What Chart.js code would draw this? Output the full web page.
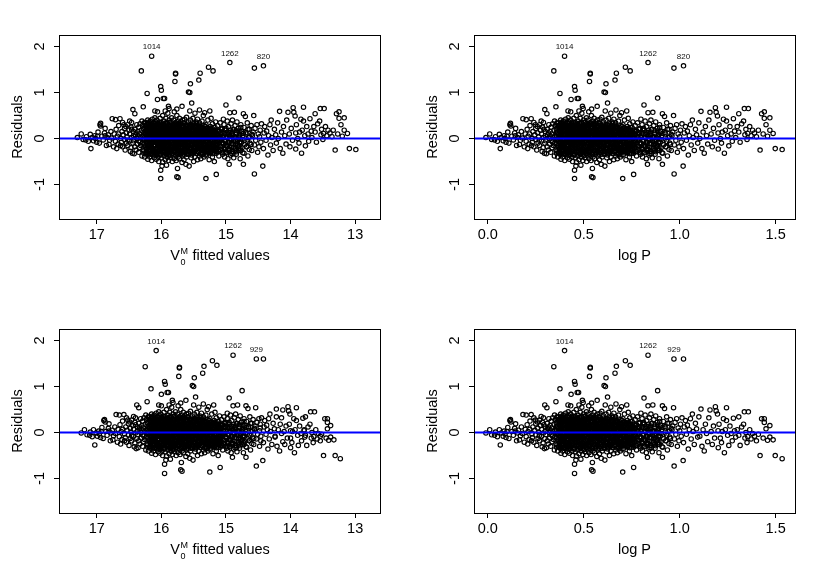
<!DOCTYPE html>
<html>
<head>
<meta charset="utf-8">
<title>Residual plots</title>
<script src="https://cdn.jsdelivr.net/npm/chart.js@4.4.1/dist/chart.umd.min.js"></script>
<style>
 html, body { margin: 0; padding: 0; background: #fff; }
 #wrap { position: relative; width: 830px; height: 588px; overflow: hidden; }
 #wrap canvas { position: absolute; }
</style>
</head>
<body>
<div id="wrap">
 <canvas id="tl" width="415" height="294" style="left:0;top:0"></canvas>
 <canvas id="tr" width="415" height="294" style="left:415px;top:0"></canvas>
 <canvas id="bl" width="415" height="294" style="left:0;top:294px"></canvas>
 <canvas id="br" width="415" height="294" style="left:415px;top:294px"></canvas>
</div>
<script>
// one entry per star, same order in every array
// first four stars are the labelled ones: 1014, 1262, 820, 929
const logP = [
 0.40, 0.835, 1.02, 0.97,
 -0.01, 0.01, 0.02, 0.035, 0.04, 0.05, 0.06, 0.065, 0.07, 0.08, 0.09, 0.095, 0.10, 0.085,
 0.104, 0.115, 0.118, 0.12, 0.11, 0.125, 0.133, 0.14, 0.143, 0.15, 0.155, 0.16, 0.165, 0.17, 0.175, 0.18, 0.183, 0.19, 0.195, 0.20, 0.20, 0.145,
 0.205, 0.208, 0.21, 0.215, 0.22, 0.226, 0.23, 0.232, 0.235, 0.24, 0.24, 0.245, 0.25, 0.25, 0.255, 0.258, 0.26, 0.262, 0.265, 0.27, 0.27, 0.275, 0.28, 0.28, 0.285, 0.288, 0.29, 0.29, 0.295, 0.297, 0.297, 0.30, 0.30, 0.218, 0.228, 0.248, 0.268, 0.278, 0.283, 0.292,
 0.302, 0.305, 0.308, 0.31, 0.31, 0.312, 0.315, 0.318, 0.32, 0.322, 0.325, 0.328, 0.33, 0.33, 0.333, 0.335, 0.338, 0.34, 0.342, 0.344, 0.345, 0.347, 0.35, 0.35, 0.352, 0.355, 0.355, 0.357, 0.36, 0.36, 0.358, 0.348, 0.338, 0.326, 0.316,
 0.362, 0.364, 0.365, 0.366, 0.368, 0.369, 0.37, 0.371, 0.372, 0.373, 0.374, 0.375, 0.376, 0.377, 0.378, 0.379, 0.38, 0.38,
 0.381, 0.382, 0.383, 0.384, 0.385, 0.386, 0.387, 0.388, 0.389, 0.39, 0.391, 0.392, 0.393, 0.394, 0.395, 0.396, 0.397, 0.398, 0.399, 0.40,
 0.401, 0.402, 0.403, 0.404, 0.405, 0.406, 0.407, 0.408, 0.409, 0.41, 0.411, 0.412, 0.413, 0.414, 0.415, 0.416, 0.417, 0.418, 0.419, 0.42, 0.42, 0.418,
 0.421, 0.422, 0.423, 0.424, 0.425, 0.426, 0.427, 0.428, 0.429, 0.43, 0.431, 0.432, 0.433, 0.434, 0.435, 0.436, 0.437, 0.438, 0.439, 0.44, 0.44, 0.432,
 0.441, 0.442, 0.443, 0.444, 0.445, 0.446, 0.447, 0.448, 0.449, 0.45, 0.451, 0.452, 0.452, 0.452, 0.453, 0.454, 0.455, 0.455, 0.456, 0.457, 0.458, 0.459, 0.46, 0.46,
 0.461, 0.462, 0.463, 0.464, 0.465, 0.466, 0.466, 0.467, 0.468, 0.469, 0.47, 0.471, 0.472, 0.473, 0.473, 0.474, 0.475, 0.476, 0.477, 0.478, 0.479, 0.48, 0.48, 0.475,
 0.481, 0.482, 0.483, 0.484, 0.485, 0.486, 0.487, 0.488, 0.489, 0.49, 0.491, 0.492, 0.493, 0.494, 0.495, 0.496, 0.497, 0.498, 0.499, 0.50, 0.50, 0.49, 0.485, 0.497,
 0.501, 0.502, 0.503, 0.504, 0.505, 0.506, 0.507, 0.508, 0.509, 0.51, 0.511, 0.512, 0.513, 0.514, 0.515, 0.516, 0.517, 0.518, 0.519, 0.52,
 0.521, 0.522, 0.523, 0.524, 0.525, 0.526, 0.527, 0.528, 0.529, 0.53, 0.53, 0.531, 0.532, 0.533, 0.534, 0.534, 0.535, 0.536, 0.537, 0.538, 0.539, 0.54,
 0.541, 0.541, 0.542, 0.543, 0.544, 0.545, 0.545, 0.546, 0.547, 0.548, 0.548, 0.549, 0.55, 0.551, 0.552, 0.553, 0.554, 0.555, 0.556, 0.557, 0.558, 0.56,
 0.561, 0.562, 0.563, 0.564, 0.565, 0.566, 0.567, 0.568, 0.569, 0.57, 0.571, 0.572, 0.573, 0.574, 0.575, 0.576, 0.578, 0.58,
 0.581, 0.582, 0.583, 0.584, 0.585, 0.586, 0.587, 0.588, 0.589, 0.59, 0.591, 0.592, 0.593, 0.594, 0.595, 0.596, 0.598, 0.60,
 0.602, 0.604, 0.606, 0.607, 0.608, 0.61, 0.611, 0.613, 0.614, 0.616, 0.616, 0.617, 0.618, 0.62, 0.62, 0.612,
 0.621, 0.622, 0.624, 0.624, 0.625, 0.627, 0.628, 0.63, 0.631, 0.632, 0.634, 0.635, 0.636, 0.638, 0.639, 0.64,
 0.641, 0.642, 0.643, 0.645, 0.646, 0.648, 0.649, 0.65, 0.652, 0.653, 0.654, 0.656, 0.657, 0.658, 0.659, 0.66,
 0.661, 0.663, 0.663, 0.664, 0.666, 0.667, 0.668, 0.67, 0.67, 0.672, 0.674, 0.675, 0.677, 0.679,
 0.681, 0.682, 0.684, 0.685, 0.687, 0.688, 0.69, 0.691, 0.693, 0.694, 0.696, 0.697, 0.698, 0.70,
 0.702, 0.703, 0.704, 0.706, 0.708, 0.71, 0.712, 0.714, 0.716, 0.717, 0.718, 0.72, 0.722, 0.724, 0.725, 0.727, 0.729, 0.73, 0.732, 0.734, 0.736, 0.738, 0.74, 0.742, 0.742, 0.744, 0.746, 0.748, 0.75, 0.752, 0.754, 0.756, 0.758, 0.76, 0.76, 0.762, 0.765, 0.768, 0.77, 0.773, 0.775, 0.778, 0.78, 0.783, 0.786, 0.79, 0.793, 0.796, 0.80, 0.798,
 0.802, 0.804, 0.806, 0.808, 0.81, 0.812, 0.814, 0.815, 0.817, 0.82, 0.822, 0.824, 0.826, 0.828, 0.83, 0.832, 0.833, 0.835, 0.836, 0.838, 0.84, 0.842, 0.844, 0.846, 0.848, 0.85, 0.852, 0.855, 0.857, 0.86, 0.86, 0.862, 0.865, 0.868, 0.87, 0.872, 0.875, 0.878, 0.88, 0.883, 0.885, 0.886, 0.89, 0.892, 0.895, 0.898, 0.90, 0.903, 0.906, 0.91, 0.91, 0.912, 0.915, 0.918, 0.921, 0.924, 0.928, 0.932, 0.936, 0.94, 0.944, 0.948,
 0.952, 0.956, 0.96, 0.964, 0.968, 0.971, 0.972, 0.976, 0.98, 0.984, 0.988, 0.992, 0.996, 1.00, 1.004, 1.008, 1.012, 1.018, 1.02, 1.024, 1.03, 1.035, 1.04, 1.045, 1.05, 1.056, 1.06, 1.066, 1.07, 1.076, 1.082, 1.088, 1.094, 1.10, 1.105, 1.111, 1.116, 1.122, 1.128, 1.134, 1.14, 1.146, 1.152, 1.158, 1.164, 1.17, 1.176, 1.182, 1.186, 1.19, 1.197, 1.20, 1.201,
 1.205, 1.212, 1.218, 1.222, 1.228, 1.233, 1.238, 1.244, 1.244, 1.25, 1.256, 1.262, 1.268, 1.274, 1.28, 1.286, 1.292, 1.30, 1.308, 1.308, 1.315, 1.323, 1.333, 1.337, 1.34, 1.345, 1.351, 1.355, 1.358, 1.365, 1.372, 1.38, 1.39, 1.40, 1.41, 1.419, 1.427, 1.435, 1.441, 1.441, 1.45, 1.458, 1.47, 1.47, 1.487, 1.498, 1.534,
 // packed core, 0.37-0.76
 0.372, 0.374, 0.375, 0.377, 0.379, 0.382, 0.384, 0.385, 0.387, 0.389, 0.392, 0.394, 0.395, 0.397, 0.399, 0.402, 0.404, 0.405, 0.407, 0.409, 0.412, 0.414, 0.415, 0.417, 0.419, 0.422, 0.424, 0.425, 0.427, 0.429, 0.432, 0.434, 0.435, 0.437, 0.439, 0.442, 0.444, 0.445, 0.447, 0.449,
 0.452, 0.454, 0.455, 0.457, 0.459, 0.462, 0.464, 0.465, 0.467, 0.469, 0.472, 0.474, 0.475, 0.477, 0.479, 0.482, 0.484, 0.485, 0.487, 0.489, 0.492, 0.494, 0.495, 0.497, 0.499, 0.502, 0.504, 0.505, 0.507, 0.509, 0.512, 0.514, 0.515, 0.517, 0.519, 0.522, 0.524, 0.525, 0.527, 0.529,
 0.532, 0.534, 0.535, 0.537, 0.539, 0.542, 0.544, 0.545, 0.547, 0.549, 0.552, 0.554, 0.555, 0.557, 0.559, 0.562, 0.564, 0.565, 0.567, 0.569, 0.572, 0.574, 0.575, 0.577, 0.579, 0.582, 0.584, 0.585, 0.587, 0.589, 0.592, 0.594, 0.595, 0.597, 0.599, 0.602, 0.604, 0.605, 0.607, 0.609,
 0.612, 0.614, 0.615, 0.617, 0.619, 0.622, 0.624, 0.625, 0.627, 0.629, 0.632, 0.634, 0.635, 0.637, 0.639, 0.642, 0.644, 0.645, 0.647, 0.649, 0.652, 0.654, 0.655, 0.657, 0.659, 0.662, 0.664, 0.665, 0.667, 0.669, 0.672, 0.674, 0.675, 0.677, 0.679, 0.682, 0.684, 0.685, 0.687, 0.689,
 0.692, 0.694, 0.695, 0.697, 0.699, 0.702, 0.704, 0.705, 0.707, 0.709, 0.712, 0.714, 0.715, 0.717, 0.719, 0.722, 0.724, 0.725, 0.727, 0.729, 0.732, 0.734, 0.735, 0.737, 0.739, 0.742, 0.744, 0.745, 0.747, 0.749, 0.752, 0.754, 0.755, 0.757, 0.759,
 0.764, 0.768, 0.772, 0.776, 0.784, 0.788, 0.792, 0.796, 0.804, 0.808, 0.812, 0.816, 0.824, 0.828, 0.832, 0.836, 0.844, 0.848, 0.852, 0.856, 0.864, 0.868, 0.872, 0.876, 0.884, 0.888, 0.892, 0.896, 0.904, 0.908, 0.912, 0.916, 0.924, 0.928, 0.932, 0.936, 0.944, 0.948, 0.952, 0.956,
 // packed core, second pass
 0.356, 0.357, 0.359, 0.360, 0.361, 0.363, 0.364, 0.366, 0.367, 0.369, 0.370, 0.371, 0.373, 0.374, 0.376, 0.377, 0.379, 0.380, 0.381, 0.383, 0.384, 0.386, 0.387, 0.389, 0.390, 0.391, 0.393, 0.394,
 0.396, 0.397, 0.399, 0.400, 0.401, 0.403, 0.404, 0.406, 0.407, 0.409, 0.410, 0.411, 0.413, 0.414, 0.416, 0.417, 0.419, 0.420, 0.421, 0.423, 0.424, 0.426, 0.427, 0.429, 0.430, 0.431, 0.433, 0.434,
 0.436, 0.437, 0.439, 0.440, 0.441, 0.443, 0.444, 0.446, 0.447, 0.449, 0.450, 0.451, 0.453, 0.454, 0.456, 0.457, 0.459, 0.460, 0.461, 0.463, 0.464, 0.466, 0.467, 0.469, 0.470, 0.471, 0.473, 0.474,
 0.476, 0.477, 0.479, 0.480, 0.481, 0.483, 0.484, 0.486, 0.487, 0.489, 0.490, 0.491, 0.493, 0.494, 0.496, 0.497, 0.499, 0.500, 0.501, 0.503, 0.504, 0.506, 0.507, 0.509, 0.510, 0.511, 0.513, 0.514,
 0.516, 0.517, 0.519, 0.520, 0.521, 0.523, 0.524, 0.526, 0.527, 0.529, 0.530, 0.531, 0.533, 0.534, 0.536, 0.537, 0.539, 0.540, 0.541, 0.543, 0.544, 0.546, 0.547, 0.549, 0.550, 0.551, 0.553, 0.554,
 0.556, 0.557, 0.559, 0.560, 0.561, 0.563, 0.564, 0.566, 0.567, 0.569, 0.570, 0.571, 0.573, 0.574, 0.576, 0.577, 0.579, 0.580, 0.581, 0.583, 0.584, 0.586, 0.587, 0.589, 0.590, 0.591, 0.593, 0.594,
 0.596, 0.597, 0.599, 0.600, 0.601, 0.603, 0.604, 0.606, 0.607, 0.609, 0.610, 0.611, 0.613, 0.614, 0.616, 0.617, 0.619, 0.620, 0.621, 0.623, 0.624, 0.626, 0.627, 0.629, 0.630, 0.631, 0.633, 0.634,
 0.636, 0.637, 0.639, 0.640, 0.641, 0.643, 0.644, 0.646, 0.647, 0.649, 0.650, 0.651, 0.653, 0.654, 0.656, 0.657, 0.659, 0.660, 0.661, 0.663, 0.664, 0.666, 0.667, 0.669, 0.670, 0.671, 0.673, 0.674,
 0.676, 0.677, 0.679, 0.680, 0.681, 0.683, 0.684, 0.686, 0.687, 0.689, 0.690, 0.691, 0.693, 0.694, 0.696, 0.697, 0.699, 0.700, 0.701, 0.703, 0.704, 0.706, 0.707, 0.709, 0.710, 0.711, 0.713, 0.714,
 0.716, 0.717, 0.719, 0.720, 0.721, 0.723, 0.724, 0.726, 0.727, 0.729, 0.730, 0.731, 0.733, 0.734, 0.736, 0.737, 0.739, 0.740, 0.741, 0.743, 0.744, 0.746, 0.747, 0.749, 0.750, 0.751, 0.753, 0.754,
 0.756, 0.757, 0.759, 0.760, 0.761, 0.763, 0.764,
 0.762, 0.765, 0.768, 0.772, 0.775, 0.778, 0.782, 0.785, 0.788, 0.792, 0.795, 0.798, 0.802, 0.805, 0.808, 0.812, 0.815, 0.818, 0.822, 0.825, 0.828, 0.832, 0.835, 0.838, 0.842, 0.845, 0.848, 0.852, 0.855, 0.858, 0.862, 0.865, 0.868, 0.872, 0.875, 0.878, 0.882, 0.885, 0.888, 0.892, 0.895, 0.898
];

// top model: fitted V0M and residuals
const fitA = [
 16.15, 14.94, 14.42, 14.56,
 17.30, 17.24, 17.21, 17.17, 17.16, 17.13, 17.10, 17.09, 17.07, 17.05, 17.02, 17.00, 16.99, 17.03,
 16.98, 16.95, 16.94, 16.94, 16.96, 16.92, 16.90, 16.88, 16.87, 16.85, 16.84, 16.82, 16.81, 16.80, 16.78, 16.77, 16.76, 16.74, 16.73, 16.71, 16.71, 16.87,
 16.70, 16.69, 16.68, 16.67, 16.66, 16.64, 16.63, 16.62, 16.61, 16.60, 16.60, 16.59, 16.57, 16.57, 16.56, 16.55, 16.54, 16.54, 16.53, 16.52, 16.52, 16.50, 16.49, 16.49, 16.47, 16.47, 16.46, 16.46, 16.45, 16.44, 16.44, 16.43, 16.43, 16.66, 16.63, 16.58, 16.52, 16.49, 16.48, 16.46,
 16.43, 16.42, 16.41, 16.41, 16.41, 16.40, 16.39, 16.38, 16.38, 16.37, 16.36, 16.35, 16.35, 16.35, 16.34, 16.34, 16.33, 16.32, 16.32, 16.31, 16.31, 16.30, 16.29, 16.29, 16.29, 16.28, 16.28, 16.27, 16.27, 16.27, 16.27, 16.30, 16.33, 16.36, 16.39,
 16.26, 16.26, 16.25, 16.25, 16.24, 16.24, 16.24, 16.23, 16.23, 16.23, 16.23, 16.22, 16.22, 16.22, 16.22, 16.21, 16.21, 16.21,
 16.21, 16.21, 16.20, 16.20, 16.20, 16.19, 16.19, 16.19, 16.18, 16.18, 16.18, 16.18, 16.17, 16.17, 16.17, 16.16, 16.16, 16.16, 16.16, 16.15,
 16.15, 16.15, 16.15, 16.14, 16.14, 16.14, 16.13, 16.13, 16.13, 16.13, 16.12, 16.12, 16.12, 16.12, 16.11, 16.11, 16.11, 16.10, 16.10, 16.10, 16.10, 16.10,
 16.10, 16.09, 16.09, 16.09, 16.08, 16.08, 16.08, 16.08, 16.07, 16.07, 16.07, 16.06, 16.06, 16.06, 16.06, 16.05, 16.05, 16.05, 16.05, 16.04, 16.04, 16.06,
 16.04, 16.04, 16.03, 16.03, 16.03, 16.03, 16.02, 16.02, 16.02, 16.01, 16.01, 16.01, 16.01, 16.01, 16.01, 16.00, 16.00, 16.00, 16.00, 16.00, 15.99, 15.99, 15.99, 15.99,
 15.98, 15.98, 15.98, 15.98, 15.97, 15.97, 15.97, 15.97, 15.96, 15.96, 15.96, 15.96, 15.95, 15.95, 15.95, 15.95, 15.94, 15.94, 15.94, 15.94, 15.93, 15.93, 15.93, 15.94,
 15.93, 15.93, 15.92, 15.92, 15.92, 15.91, 15.91, 15.91, 15.91, 15.90, 15.90, 15.90, 15.89, 15.89, 15.89, 15.89, 15.88, 15.88, 15.88, 15.88, 15.88, 15.90, 15.92, 15.88,
 15.87, 15.87, 15.87, 15.86, 15.86, 15.86, 15.86, 15.85, 15.85, 15.85, 15.84, 15.84, 15.84, 15.84, 15.83, 15.83, 15.83, 15.82, 15.82, 15.82,
 15.82, 15.81, 15.81, 15.81, 15.81, 15.80, 15.80, 15.80, 15.79, 15.79, 15.79, 15.79, 15.79, 15.78, 15.78, 15.78, 15.78, 15.77, 15.77, 15.77, 15.77, 15.76,
 15.76, 15.76, 15.76, 15.75, 15.75, 15.75, 15.75, 15.75, 15.74, 15.74, 15.74, 15.74, 15.74, 15.73, 15.73, 15.73, 15.72, 15.72, 15.72, 15.72, 15.71, 15.71,
 15.70, 15.70, 15.70, 15.70, 15.69, 15.69, 15.69, 15.68, 15.68, 15.68, 15.68, 15.67, 15.67, 15.67, 15.67, 15.66, 15.66, 15.65,
 15.65, 15.65, 15.64, 15.64, 15.64, 15.64, 15.63, 15.63, 15.63, 15.62, 15.62, 15.62, 15.62, 15.61, 15.61, 15.61, 15.60, 15.60,
 15.59, 15.58, 15.58, 15.58, 15.57, 15.57, 15.57, 15.56, 15.56, 15.55, 15.55, 15.55, 15.55, 15.54, 15.54, 15.56,
 15.54, 15.54, 15.53, 15.53, 15.53, 15.52, 15.52, 15.51, 15.51, 15.51, 15.50, 15.50, 15.50, 15.49, 15.49, 15.48,
 15.48, 15.48, 15.48, 15.47, 15.47, 15.46, 15.46, 15.46, 15.45, 15.45, 15.45, 15.44, 15.44, 15.43, 15.43, 15.43,
 15.43, 15.42, 15.42, 15.42, 15.41, 15.41, 15.41, 15.40, 15.40, 15.40, 15.39, 15.39, 15.38, 15.38,
 15.37, 15.37, 15.36, 15.36, 15.35, 15.35, 15.35, 15.34, 15.34, 15.33, 15.33, 15.33, 15.32, 15.32,
 15.31, 15.31, 15.31, 15.30, 15.29, 15.29, 15.28, 15.28, 15.27, 15.27, 15.27, 15.26, 15.26, 15.25, 15.25, 15.24, 15.24, 15.23, 15.23, 15.22, 15.22, 15.21, 15.21, 15.20, 15.20, 15.19, 15.19, 15.18, 15.18, 15.17, 15.17, 15.16, 15.16, 15.15, 15.15, 15.14, 15.14, 15.13, 15.12, 15.11, 15.11, 15.10, 15.09, 15.09, 15.08, 15.07, 15.06, 15.05, 15.04, 15.04,
 15.03, 15.03, 15.02, 15.02, 15.01, 15.00, 15.00, 15.00, 14.99, 14.98, 14.98, 14.97, 14.97, 14.96, 14.95, 14.95, 14.95, 14.94, 14.94, 14.93, 14.93, 14.92, 14.92, 14.91, 14.90, 14.90, 14.89, 14.88, 14.88, 14.87, 14.87, 14.86, 14.86, 14.85, 14.84, 14.84, 14.83, 14.82, 14.81, 14.81, 14.80, 14.80, 14.79, 14.78, 14.77, 14.76, 14.76, 14.75, 14.74, 14.73, 14.73, 14.72, 14.72, 14.71, 14.70, 14.69, 14.68, 14.67, 14.66, 14.65, 14.64, 14.63,
 14.61, 14.60, 14.59, 14.58, 14.57, 14.56, 14.56, 14.55, 14.54, 14.52, 14.51, 14.50, 14.49, 14.48, 14.47, 14.46, 14.45, 14.43, 14.42, 14.41, 14.40, 14.38, 14.37, 14.35, 14.34, 14.32, 14.31, 14.30, 14.29, 14.27, 14.25, 14.23, 14.22, 14.20, 14.19, 14.17, 14.16, 14.14, 14.12, 14.11, 14.09, 14.07, 14.06, 14.04, 14.02, 14.01, 13.99, 13.97, 13.96, 13.95, 13.93, 13.92, 13.92,
 13.91, 13.89, 13.87, 13.86, 13.84, 13.83, 13.82, 13.80, 13.80, 13.78, 13.77, 13.75, 13.73, 13.72, 13.70, 13.68, 13.67, 13.64, 13.62, 13.62, 13.60, 13.58, 13.55, 13.54, 13.53, 13.52, 13.50, 13.49, 13.48, 13.46, 13.44, 13.42, 13.39, 13.36, 13.34, 13.31, 13.29, 13.27, 13.25, 13.25, 13.22, 13.20, 13.17, 13.17, 13.12, 13.09, 12.99,
 // packed core
 16.23, 16.23, 16.22, 16.22, 16.21, 16.20, 16.20, 16.20, 16.19, 16.19, 16.18, 16.17, 16.17, 16.16, 16.16, 16.15, 16.14, 16.14, 16.13, 16.13, 16.12, 16.12, 16.11, 16.11, 16.10, 16.09, 16.09, 16.08, 16.08, 16.07, 16.06, 16.06, 16.06, 16.05, 16.05, 16.04, 16.03, 16.03, 16.02, 16.02,
 16.01, 16.00, 16.00, 16.00, 15.99, 15.98, 15.98, 15.97, 15.97, 15.96, 15.95, 15.95, 15.95, 15.94, 15.93, 15.93, 15.92, 15.92, 15.91, 15.91, 15.90, 15.89, 15.89, 15.88, 15.88, 15.87, 15.86, 15.86, 15.86, 15.85, 15.84, 15.84, 15.83, 15.83, 15.82, 15.81, 15.81, 15.81, 15.80, 15.79,
 15.79, 15.78, 15.78, 15.77, 15.77, 15.76, 15.75, 15.75, 15.74, 15.74, 15.73, 15.73, 15.72, 15.72, 15.71, 15.70, 15.70, 15.69, 15.69, 15.68, 15.67, 15.67, 15.67, 15.66, 15.66, 15.65, 15.64, 15.64, 15.63, 15.63, 15.62, 15.61, 15.61, 15.60, 15.60, 15.59, 15.59, 15.58, 15.58, 15.57,
 15.56, 15.56, 15.55, 15.55, 15.54, 15.53, 15.53, 15.53, 15.52, 15.52, 15.51, 15.50, 15.50, 15.49, 15.49, 15.48, 15.47, 15.47, 15.46, 15.46, 15.45, 15.45, 15.44, 15.44, 15.43, 15.42, 15.42, 15.42, 15.41, 15.40, 15.40, 15.39, 15.39, 15.38, 15.38, 15.37, 15.36, 15.36, 15.35, 15.35,
 15.34, 15.33, 15.33, 15.33, 15.32, 15.31, 15.31, 15.30, 15.30, 15.29, 15.28, 15.28, 15.28, 15.27, 15.26, 15.26, 15.25, 15.25, 15.24, 15.24, 15.23, 15.22, 15.22, 15.21, 15.21, 15.20, 15.19, 15.19, 15.19, 15.18, 15.17, 15.17, 15.16, 15.16, 15.15,
 15.14, 15.13, 15.12, 15.10, 15.08, 15.07, 15.06, 15.05, 15.03, 15.02, 15.01, 14.99, 14.97, 14.96, 14.95, 14.94, 14.92, 14.90, 14.89, 14.88, 14.86, 14.85, 14.84, 14.83, 14.80, 14.79, 14.78, 14.77, 14.75, 14.74, 14.73, 14.71, 14.69, 14.68, 14.67, 14.66, 14.64, 14.63, 14.61, 14.60,
 // packed core, second pass
 16.28, 16.27, 16.27, 16.27, 16.26, 16.26, 16.25, 16.25, 16.25, 16.24, 16.24, 16.23, 16.23, 16.23, 16.22, 16.22, 16.21, 16.21, 16.21, 16.20, 16.20, 16.19, 16.19, 16.18, 16.18, 16.18, 16.17, 16.17,
 16.17, 16.16, 16.16, 16.15, 16.15, 16.15, 16.14, 16.14, 16.13, 16.13, 16.13, 16.12, 16.12, 16.12, 16.11, 16.11, 16.10, 16.10, 16.10, 16.09, 16.09, 16.08, 16.08, 16.07, 16.07, 16.07, 16.06, 16.06,
 16.05, 16.05, 16.05, 16.04, 16.04, 16.03, 16.03, 16.03, 16.02, 16.02, 16.01, 16.01, 16.01, 16.00, 16.00, 15.99, 15.99, 15.99, 15.98, 15.98, 15.98, 15.97, 15.97, 15.96, 15.96, 15.96, 15.95, 15.95,
 15.94, 15.94, 15.93, 15.93, 15.93, 15.92, 15.92, 15.91, 15.91, 15.91, 15.90, 15.90, 15.89, 15.89, 15.89, 15.88, 15.88, 15.87, 15.87, 15.87, 15.86, 15.86, 15.85, 15.85, 15.85, 15.84, 15.84, 15.84,
 15.83, 15.83, 15.82, 15.82, 15.82, 15.81, 15.81, 15.80, 15.80, 15.79, 15.79, 15.79, 15.78, 15.78, 15.77, 15.77, 15.77, 15.76, 15.76, 15.76, 15.75, 15.75, 15.74, 15.74, 15.74, 15.73, 15.73, 15.72,
 15.72, 15.72, 15.71, 15.71, 15.70, 15.70, 15.70, 15.69, 15.69, 15.68, 15.68, 15.68, 15.67, 15.67, 15.66, 15.66, 15.66, 15.65, 15.65, 15.64, 15.64, 15.63, 15.63, 15.63, 15.62, 15.62, 15.62, 15.61,
 15.61, 15.60, 15.60, 15.60, 15.59, 15.59, 15.58, 15.58, 15.58, 15.57, 15.57, 15.57, 15.56, 15.56, 15.55, 15.55, 15.54, 15.54, 15.54, 15.53, 15.53, 15.52, 15.52, 15.52, 15.51, 15.51, 15.50, 15.50,
 15.50, 15.49, 15.49, 15.48, 15.48, 15.48, 15.47, 15.47, 15.46, 15.46, 15.46, 15.45, 15.45, 15.45, 15.44, 15.44, 15.43, 15.43, 15.43, 15.42, 15.42, 15.41, 15.41, 15.40, 15.40, 15.40, 15.39, 15.39,
 15.38, 15.38, 15.38, 15.37, 15.37, 15.36, 15.36, 15.36, 15.35, 15.35, 15.34, 15.34, 15.34, 15.33, 15.33, 15.32, 15.32, 15.32, 15.31, 15.31, 15.31, 15.30, 15.30, 15.29, 15.29, 15.29, 15.28, 15.28,
 15.27, 15.27, 15.26, 15.26, 15.26, 15.25, 15.25, 15.24, 15.24, 15.24, 15.23, 15.23, 15.23, 15.22, 15.22, 15.21, 15.21, 15.21, 15.20, 15.20, 15.19, 15.19, 15.19, 15.18, 15.18, 15.17, 15.17, 15.17,
 15.16, 15.16, 15.15, 15.15, 15.15, 15.14, 15.14,
 15.14, 15.14, 15.13, 15.12, 15.11, 15.10, 15.09, 15.08, 15.07, 15.06, 15.05, 15.04, 15.03, 15.02, 15.02, 15.00, 15.00, 14.99, 14.98, 14.97, 14.96, 14.95, 14.94, 14.93, 14.92, 14.91, 14.90, 14.89, 14.88, 14.88, 14.86, 14.86, 14.85, 14.84, 14.83, 14.82, 14.81, 14.80, 14.79, 14.78, 14.77, 14.76
];

const resA = [
 1.79, 1.65, 1.58, 1.53,
 0.02, 0.10, -0.02, -0.03, 0.04, -0.06, 0.09, -0.22, 0.02, -0.05, 0.00, -0.08, 0.05, 0.06,
 0.14, 0.30, 0.33, 0.27, -0.10, 0.05, -0.03, 0.12, 0.06, -0.15, 0.02, 0.08, -0.13, -0.04, 0.15, 0.01, 0.43, -0.18, 0.10, 0.41, -0.06, 0.22,
 0.20, -0.22, 0.05, -0.12, 0.28, 0.43, 0.00, -0.08, 0.15, 0.35, -0.18, 0.08, -0.02, 0.22, -0.25, 0.26, 0.12, -0.10, 0.04, 0.30, -0.15, 0.18, -0.05, 0.10, 0.25, -0.20, 0.02, 0.35, -0.32, 0.63, -0.10, 0.15, 0.06, 0.10, -0.15, 0.30, -0.04, 0.38, -0.28, 0.20,
 -0.05, -0.33, 0.54, 0.20, -0.18, 0.08, -0.25, 0.30, 0.00, -0.12, 0.15, -0.30, 0.25, -0.05, 0.10, -0.20, 0.32, 0.02, -0.15, 1.47, 0.18, -0.38, 0.06, -0.10, 0.28, 0.69, -0.25, 0.12, -0.02, 0.22, -0.32, 0.38, -0.08, 0.05, 0.12,
 0.35, -0.40, 0.10, -0.15, 0.25, -0.05, 0.02, -0.30, 0.18, -0.22, 0.30, -0.10, 0.98, 0.08, -0.35, 0.15, -0.02, 0.40,
 -0.45, 0.22, -0.18, 0.05, 0.33, -0.28, 0.12, -0.08, 0.28, -0.40, 0.00, 0.18, -0.24, 0.38, -0.12, 0.08, -0.33, 0.25, -0.04, 0.15,
 -0.48, 0.30, -0.20, 0.06, 0.42, -0.10, 0.20, -0.36, 0.00, 0.26, -0.26, 0.12, -0.06, 0.34, -0.42, 0.16, -0.15, 0.04, 0.45, -0.30, 0.22, 0.60,
 -0.08, 0.36, -0.22, 0.10, -0.45, 0.24, -0.02, 0.18, -0.34, 0.05, 0.40, -0.14, 0.28, 0.85, -0.28, 0.14, -0.05, 0.32, -0.40, 0.08, -0.18, 0.58,
 0.22, -0.50, 0.02, 0.30, -0.24, 0.12, -0.10, 0.44, -0.36, 0.18, -0.02, 1.13, -0.69, -0.87, 0.26, -0.16, 1.05, 0.06, -0.42, 0.35, -0.06, -0.60, 0.15, -0.30,
 0.50, -0.51, 0.08, -0.20, 0.28, 0.87, -0.04, 0.20, -0.38, 0.12, -0.12, 0.38, -0.28, 0.87, 0.02, 0.24, -0.46, 0.10, -0.18, 0.32, 0.00, -0.34, 0.16, 0.60,
 -0.08, 0.44, -0.24, 0.06, 0.26, -0.40, 0.14, -0.14, 0.34, -0.02, 0.20, -0.30, 0.70, 0.04, -0.48, 0.28, -0.10, 0.12, -0.36, 0.40, -0.20, 0.55, -0.58, 0.65,
 0.08, -0.26, 0.30, -0.06, 0.18, -0.42, 0.02, 0.36, -0.16, 0.12, -0.32, 0.24, -0.04, 0.45, -0.50, 0.10, -0.20, 0.30, 0.00, -0.38,
 0.20, -0.10, 0.40, -0.28, 0.06, 0.58, -0.44, 0.16, -0.02, 1.24, 0.28, -0.22, 0.10, -0.36, 1.42, 1.40, 0.34, -0.08, 0.22, -0.48, 0.04, 0.50,
 0.64, -0.83, -0.18, 0.26, -0.30, -0.65, 0.12, -0.06, 0.38, -0.85, -0.40, 0.18, -0.12, 0.32, 0.00, -0.26, 0.44, 0.08, -0.44, 0.22, -0.04, 0.30,
 -0.20, 0.14, -0.34, 0.36, 0.02, -0.10, 0.24, -0.52, 0.10, 0.70, -0.28, 0.40, -0.04, 0.18, -0.38, 0.28, -0.14, 0.06,
 0.34, -0.46, 0.12, -0.22, 0.42, 0.00, -0.30, 0.22, -0.08, 0.30, -0.56, 0.06, -0.18, 0.46, 0.16, -0.40, -0.02, 0.26,
 -0.12, 0.36, 1.01, -0.34, 0.10, -0.60, 0.24, 1.00, -0.06, 1.19, 0.40, -0.24, 0.14, -0.42, 0.02, 0.60,
 0.30, -0.16, 0.77, 0.08, -0.36, 0.20, -0.04, 0.44, -0.26, 0.12, -0.50, 0.32, -0.10, 0.04, -0.30, 0.22,
 0.55, -0.02, -0.40, 0.16, -0.20, 0.36, 0.00, -0.32, 0.26, -0.10, 0.10, -0.46, 0.42, 0.06, -0.18, 0.30,
 -0.28, 1.27, 0.14, -0.06, 0.34, -0.38, 0.62, 1.42, 0.04, -0.16, 0.24, -0.44, 0.10, -0.24,
 0.38, -0.02, -0.34, 0.18, -0.12, 0.50, 0.08, -0.40, 0.28, -0.20, 0.02, 0.56, -0.30, 0.14,
 -0.08, -0.87, 0.30, -0.36, 0.12, -0.18, 0.40, 0.00, -0.28, 1.55, 0.20, -0.46, 0.08, 0.60, -0.12, 0.26, -0.32, 0.04, 0.44, -0.22, 0.14, -0.40, 0.32, 1.47, -0.04, 0.18, -0.26, 0.06, -0.50, 0.24, -0.14, 0.36, 0.00, -0.78, -0.32, 0.10, -0.20, 0.28, -0.06, 0.16, -0.38, 0.04, 0.34, -0.24, 0.12, -0.10, 0.22, -0.34, 0.06, 0.42,
 -0.20, 0.30, -0.40, 0.10, -0.06, 0.22, 0.73, -0.30, 0.02, 0.38, -0.16, 0.14, -0.44, 0.26, -0.08, -0.56, 0.06, 0.56, -0.24, 0.18, -0.36, 0.32, -0.02, 0.10, -0.28, 0.40, -0.12, 0.20, -0.42, 0.57, 0.04, -0.22, 0.28, -0.06, 0.12, -0.34, 0.36, -0.14, 0.02, 0.22, 0.88, -0.26, 0.08, -0.44, 0.30, -0.08, 0.16, -0.20, 0.06, 0.54, -0.56, -0.32, 0.24, -0.04, 0.48, 0.10, -0.18, 0.34, -0.38, 0.02, 0.20, -0.10,
 0.28, -0.26, 0.06, 0.14, 0.50, -0.77, -0.14, 0.22, -0.04, 0.30, -0.30, 0.10, -0.18, 0.04, 0.18, -0.08, 0.32, -0.60, -0.22, 0.12, 0.26, -0.04, 0.16, -0.36, 0.06, 0.30, -0.14, 0.40, 0.02, -0.26, 0.20, 0.08, -0.10, 0.34, 0.00, 0.59, -0.22, 0.14, -0.32, 0.26, 0.06, -0.12, 0.40, 0.57, 0.10, -0.18, 0.22, -0.04, 0.67, 0.57, 0.49, 0.12, -0.23,
 0.30, 0.00, -0.10, 0.14, 0.42, -0.32, 0.18, 0.68, 0.38, 0.06, -0.16, 0.26, 0.10, -0.06, 0.43, 0.16, 0.02, 0.26, 0.54, 0.14, -0.08, 0.32, 0.38, 0.65, 0.08, 0.20, -0.02, 0.11, 0.65, 0.26, 0.06, 0.18, 0.12, 0.04, 0.18, -0.25, 0.54, 0.10, 0.58, 0.44, 0.30, 0.05, 0.45, 0.18, 0.11, -0.22, -0.24,
 // packed core
 -0.31, 0.27, -0.07, 0.13, -0.19, 0.04, -0.26, 0.19, -0.12, 0.31, -0.17, 0.09, -0.34, 0.24, -0.02, 0.16, -0.09, 0.29, -0.28, 0.01, -0.23, 0.21, -0.04, 0.11, -0.36, 0.07, -0.15, 0.33, -0.30, 0.18, -0.11, 0.26, -0.21, 0.03, -0.33, 0.19, -0.27, 0.09, -0.06, 0.28,
 -0.35, 0.14, -0.13, 0.23, -0.01, 0.02, -0.22, 0.31, -0.09, 0.12, -0.26, 0.08, -0.17, 0.27, -0.04, 0.21, -0.32, 0.05, -0.14, 0.17, -0.08, 0.29, -0.24, 0.10, -0.37, 0.13, -0.05, 0.25, -0.29, 0.00, -0.19, 0.17, -0.33, 0.06, 0.24, 0.09, -0.25, 0.14, -0.11, 0.30,
 -0.30, 0.03, -0.16, 0.22, -0.06, 0.26, -0.12, 0.07, -0.35, 0.15, -0.03, 0.20, -0.27, 0.11, -0.18, 0.17, -0.31, 0.28, -0.07, 0.04, -0.22, 0.12, -0.09, 0.25, -0.34, 0.05, -0.18, 0.21, -0.26, 0.09, -0.14, 0.27, -0.01, 0.15, -0.29, 0.22, -0.08, 0.10, -0.32, 0.18,
 -0.27, 0.06, -0.20, 0.24, -0.05, 0.11, -0.23, 0.29, -0.12, 0.02, -0.06, 0.18, -0.30, 0.08, -0.17, 0.25, -0.13, 0.04, -0.24, 0.14, -0.33, 0.10, -0.07, 0.20, -0.21, 0.03, -0.28, 0.16, -0.02, 0.26, -0.18, 0.22, -0.11, 0.07, -0.31, 0.14, -0.04, 0.24, -0.20, 0.00,
 -0.24, 0.09, -0.15, 0.18, -0.36, 0.06, -0.26, 0.12, -0.08, 0.23, -0.12, 0.15, -0.28, 0.02, -0.19, 0.19, -0.10, 0.05, -0.30, 0.11, -0.29, 0.04, -0.16, 0.21, -0.02, 0.08, -0.21, 0.16, -0.12, -0.32, -0.07, 0.13, -0.25, 0.03, -0.15,
 -0.14, 0.07, -0.27, 0.16, 0.02, -0.21, 0.12, -0.09, -0.30, 0.19, -0.04, -0.17, 0.09, -0.12, -0.25, 0.05, -0.19, 0.14, -0.33, -0.03, 0.01, -0.27, 0.17, -0.11, -0.16, 0.06, -0.22, 0.24, -0.02, -0.31, 0.11, -0.14, 0.13, -0.18, -0.06, 0.20, -0.24, 0.04, -0.13, 0.09,
 // packed core, second pass
 0.21, -0.12, 0.05, -0.27, 0.33, -0.04, 0.14, -0.19, 0.28, -0.31, 0.09, -0.06, 0.18, -0.23, 0.02, -0.16, 0.25, -0.09, 0.35, -0.29, 0.11, -0.33, 0.07, -0.14, 0.22, -0.02, 0.31, -0.20,
 0.16, -0.25, 0.01, 0.27, -0.11, 0.08, -0.32, -0.07, 0.34, -0.21, 0.13, -0.30, 0.04, 0.23, 0.28, -0.03, 0.10, -0.26, 0.19, -0.15, 0.00, -0.24, 0.12, -0.08, 0.30, -0.34, 0.06, -0.13,
 0.09, -0.29, 0.24, -0.01, 0.15, -0.19, 0.36, -0.11, 0.20, -0.35, 0.03, -0.22, 0.26, -0.05, 0.32, -0.18, 0.07, -0.10, 0.23, -0.28, 0.12, -0.02, 0.15, -0.26, 0.29, -0.13, 0.04, -0.31,
 0.19, -0.07, 0.33, -0.20, 0.01, -0.34, 0.10, -0.15, 0.25, -0.04, 0.13, -0.28, 0.21, -0.09, 0.06, -0.23, 0.18, -0.12, 0.35, -0.01, -0.30, -0.27, 0.11, -0.17, 0.27, 0.02, -0.08, 0.20,
 0.14, -0.32, 0.03, -0.14, 0.24, -0.22, 0.31, -0.05, 0.22, -0.29, 0.08, -0.18, 0.34, -0.10, 0.26, -0.13, 0.12, -0.24, 0.05, -0.03, -0.33, -0.20, 0.04, 0.30, -0.07, 0.17, -0.27, 0.09,
 0.11, -0.26, -0.02, 0.21, -0.14, 0.32, -0.06, -0.30, 0.16, -0.11, 0.01, 0.25, -0.19, 0.07, 0.03, -0.08, 0.28, -0.31, 0.12, -0.16, 0.19, -0.17, 0.29, -0.05, 0.14, -0.25, 0.06, -0.34,
 0.22, -0.10, 0.08, -0.21, 0.31, -0.02, 0.13, -0.09, 0.18, -0.28, 0.05, -0.15, 0.26, -0.03, 0.30, -0.22, 0.10, -0.12, 0.02, -0.30, 0.17, -0.14, 0.06, -0.32, 0.24, -0.06, 0.12, -0.20,
 0.17, -0.27, 0.00, 0.09, -0.18, 0.28, -0.08, -0.25, 0.13, -0.09, 0.33, -0.01, -0.16, 0.04, 0.08, -0.19, 0.21, -0.29, 0.15, -0.05, 0.25, -0.03, 0.27, -0.13, 0.06, -0.23, 0.18, -0.33,
 0.24, -0.06, 0.14, -0.17, 0.03, -0.26, 0.11, -0.21, 0.09, -0.02, 0.20, -0.31, 0.05, -0.12, 0.13, -0.15, 0.26, -0.08, -0.24, 0.01, 0.18, -0.28, 0.03, -0.10, 0.16, -0.04, 0.23, -0.18,
 0.10, -0.24, 0.19, -0.01, -0.13, 0.07, -0.30, -0.06, 0.21, -0.20, 0.11, -0.27, 0.02, 0.15, 0.18, -0.11, 0.04, -0.33, 0.09, -0.17, 0.24, -0.16, 0.08, -0.26, 0.14, -0.03, -0.21, 0.01,
 0.05, -0.19, 0.12, -0.09, -0.28, 0.17, -0.05,
 -0.21, 0.09, -0.05, 0.15, -0.28, -0.10, -0.02, -0.17, 0.20, -0.30, 0.05, -0.12, 0.11, -0.24, -0.04, -0.15, 0.18, -0.31, 0.02, -0.08, -0.22, -0.27, 0.13, -0.01, -0.11, -0.33, 0.07, 0.19, -0.19, -0.06, -0.25, 0.04, -0.14, 0.10, -0.29, -0.03, -0.18, 0.16, -0.09, -0.07, -0.26, 0.12
];

// bottom model: fitted V0M and residuals
const fitB = [
 16.08, 14.89, 14.42, 14.53,
 17.24, 17.19, 17.15, 17.11, 17.10, 17.07, 17.05, 17.03, 17.01, 16.99, 16.96, 16.94, 16.93, 16.97,
 16.92, 16.89, 16.88, 16.87, 16.90, 16.86, 16.84, 16.82, 16.81, 16.79, 16.78, 16.76, 16.75, 16.74, 16.72, 16.71, 16.70, 16.68, 16.67, 16.65, 16.65, 16.81,
 16.64, 16.63, 16.62, 16.61, 16.60, 16.58, 16.57, 16.56, 16.55, 16.54, 16.54, 16.53, 16.51, 16.51, 16.50, 16.49, 16.48, 16.48, 16.47, 16.46, 16.46, 16.44, 16.43, 16.43, 16.41, 16.41, 16.40, 16.40, 16.39, 16.38, 16.38, 16.37, 16.37, 16.60, 16.57, 16.52, 16.46, 16.43, 16.42, 16.40,
 16.37, 16.36, 16.35, 16.35, 16.35, 16.34, 16.33, 16.32, 16.32, 16.31, 16.30, 16.29, 16.29, 16.29, 16.28, 16.28, 16.27, 16.26, 16.26, 16.25, 16.25, 16.24, 16.23, 16.23, 16.23, 16.22, 16.22, 16.21, 16.21, 16.21, 16.21, 16.24, 16.27, 16.30, 16.33,
 16.20, 16.20, 16.19, 16.19, 16.18, 16.18, 16.18, 16.17, 16.17, 16.17, 16.17, 16.16, 16.16, 16.16, 16.16, 16.15, 16.15, 16.15,
 16.15, 16.15, 16.14, 16.14, 16.14, 16.13, 16.13, 16.13, 16.12, 16.12, 16.12, 16.12, 16.11, 16.11, 16.11, 16.10, 16.10, 16.10, 16.10, 16.09,
 16.09, 16.09, 16.09, 16.08, 16.08, 16.08, 16.07, 16.07, 16.07, 16.07, 16.06, 16.06, 16.06, 16.06, 16.05, 16.05, 16.05, 16.04, 16.04, 16.04, 16.04, 16.04,
 16.04, 16.03, 16.03, 16.03, 16.02, 16.02, 16.02, 16.02, 16.01, 16.01, 16.01, 16.00, 16.00, 16.00, 16.00, 15.99, 15.99, 15.99, 15.99, 15.98, 15.98, 16.00,
 15.98, 15.98, 15.97, 15.97, 15.97, 15.97, 15.96, 15.96, 15.96, 15.95, 15.95, 15.95, 15.95, 15.95, 15.95, 15.94, 15.94, 15.94, 15.94, 15.94, 15.93, 15.93, 15.93, 15.93,
 15.92, 15.92, 15.92, 15.92, 15.91, 15.91, 15.91, 15.91, 15.90, 15.90, 15.90, 15.90, 15.89, 15.89, 15.89, 15.89, 15.88, 15.88, 15.88, 15.88, 15.87, 15.87, 15.87, 15.88,
 15.87, 15.87, 15.86, 15.86, 15.86, 15.85, 15.85, 15.85, 15.85, 15.84, 15.84, 15.84, 15.83, 15.83, 15.83, 15.83, 15.82, 15.82, 15.82, 15.82, 15.82, 15.84, 15.86, 15.82,
 15.81, 15.81, 15.81, 15.80, 15.80, 15.80, 15.80, 15.79, 15.79, 15.79, 15.78, 15.78, 15.78, 15.78, 15.77, 15.77, 15.77, 15.76, 15.76, 15.76,
 15.76, 15.75, 15.75, 15.75, 15.75, 15.74, 15.74, 15.74, 15.73, 15.73, 15.73, 15.73, 15.73, 15.72, 15.72, 15.72, 15.72, 15.71, 15.71, 15.71, 15.71, 15.70,
 15.70, 15.70, 15.70, 15.69, 15.69, 15.69, 15.69, 15.69, 15.68, 15.68, 15.68, 15.68, 15.68, 15.67, 15.67, 15.67, 15.66, 15.66, 15.66, 15.66, 15.65, 15.65,
 15.64, 15.64, 15.64, 15.64, 15.63, 15.63, 15.63, 15.62, 15.62, 15.62, 15.62, 15.61, 15.61, 15.61, 15.61, 15.60, 15.60, 15.59,
 15.59, 15.59, 15.58, 15.58, 15.58, 15.58, 15.57, 15.57, 15.57, 15.56, 15.56, 15.56, 15.56, 15.55, 15.55, 15.55, 15.54, 15.54,
 15.53, 15.52, 15.52, 15.52, 15.51, 15.51, 15.51, 15.50, 15.50, 15.49, 15.49, 15.49, 15.49, 15.48, 15.48, 15.50,
 15.48, 15.48, 15.47, 15.47, 15.47, 15.46, 15.46, 15.45, 15.45, 15.45, 15.44, 15.44, 15.44, 15.43, 15.43, 15.42,
 15.42, 15.42, 15.42, 15.41, 15.41, 15.40, 15.40, 15.40, 15.39, 15.39, 15.39, 15.38, 15.38, 15.37, 15.37, 15.37,
 15.37, 15.36, 15.36, 15.36, 15.35, 15.35, 15.35, 15.34, 15.34, 15.34, 15.33, 15.33, 15.32, 15.32,
 15.31, 15.31, 15.30, 15.30, 15.29, 15.29, 15.29, 15.28, 15.28, 15.27, 15.27, 15.27, 15.26, 15.26,
 15.25, 15.25, 15.25, 15.24, 15.23, 15.23, 15.22, 15.22, 15.21, 15.21, 15.21, 15.20, 15.20, 15.19, 15.19, 15.18, 15.18, 15.17, 15.17, 15.16, 15.16, 15.15, 15.15, 15.14, 15.14, 15.13, 15.13, 15.12, 15.12, 15.11, 15.11, 15.10, 15.10, 15.09, 15.09, 15.08, 15.08, 15.07, 15.06, 15.05, 15.05, 15.04, 15.03, 15.03, 15.02, 15.01, 15.00, 14.99, 14.98, 14.98,
 14.98, 14.98, 14.97, 14.97, 14.96, 14.95, 14.95, 14.95, 14.94, 14.93, 14.93, 14.92, 14.92, 14.91, 14.90, 14.90, 14.90, 14.89, 14.89, 14.88, 14.88, 14.87, 14.87, 14.86, 14.85, 14.85, 14.84, 14.83, 14.83, 14.82, 14.82, 14.81, 14.81, 14.80, 14.79, 14.79, 14.78, 14.77, 14.76, 14.76, 14.75, 14.75, 14.74, 14.73, 14.72, 14.71, 14.72, 14.71, 14.70, 14.69, 14.69, 14.68, 14.68, 14.67, 14.66, 14.65, 14.64, 14.63, 14.62, 14.61, 14.60, 14.59,
 14.58, 14.57, 14.56, 14.55, 14.54, 14.53, 14.53, 14.52, 14.51, 14.49, 14.48, 14.47, 14.46, 14.48, 14.47, 14.46, 14.45, 14.43, 14.42, 14.41, 14.40, 14.38, 14.37, 14.35, 14.36, 14.34, 14.33, 14.32, 14.31, 14.29, 14.27, 14.25, 14.24, 14.22, 14.24, 14.22, 14.21, 14.19, 14.17, 14.16, 14.14, 14.12, 14.14, 14.12, 14.10, 14.09, 14.07, 14.05, 14.04, 14.03, 14.01, 14.00, 14.00,
 14.02, 14.00, 13.98, 13.97, 13.95, 13.94, 13.93, 13.91, 13.91, 13.89, 13.88, 13.86, 13.84, 13.83, 13.81, 13.79, 13.78, 13.79, 13.77, 13.77, 13.75, 13.73, 13.70, 13.69, 13.68, 13.67, 13.65, 13.64, 13.63, 13.61, 13.59, 13.57, 13.54, 13.54, 13.52, 13.49, 13.47, 13.45, 13.43, 13.43, 13.43, 13.41, 13.38, 13.38, 13.33, 13.31, 13.23,
 // packed core
 16.17, 16.17, 16.16, 16.16, 16.15, 16.14, 16.14, 16.14, 16.13, 16.13, 16.12, 16.11, 16.11, 16.10, 16.10, 16.09, 16.08, 16.08, 16.07, 16.07, 16.06, 16.06, 16.05, 16.05, 16.04, 16.03, 16.03, 16.02, 16.02, 16.01, 16.00, 16.00, 16.00, 15.99, 15.99, 15.98, 15.97, 15.97, 15.96, 15.96,
 15.95, 15.94, 15.94, 15.94, 15.93, 15.92, 15.92, 15.91, 15.91, 15.90, 15.89, 15.89, 15.89, 15.88, 15.87, 15.87, 15.86, 15.86, 15.85, 15.85, 15.84, 15.83, 15.83, 15.82, 15.82, 15.81, 15.80, 15.80, 15.80, 15.79, 15.78, 15.78, 15.77, 15.77, 15.76, 15.75, 15.75, 15.75, 15.74, 15.73,
 15.73, 15.72, 15.72, 15.71, 15.71, 15.70, 15.69, 15.69, 15.68, 15.68, 15.67, 15.67, 15.66, 15.66, 15.65, 15.64, 15.64, 15.63, 15.63, 15.62, 15.61, 15.61, 15.61, 15.60, 15.60, 15.59, 15.58, 15.58, 15.57, 15.57, 15.56, 15.55, 15.55, 15.54, 15.54, 15.53, 15.53, 15.52, 15.52, 15.51,
 15.50, 15.50, 15.49, 15.49, 15.48, 15.47, 15.47, 15.47, 15.46, 15.46, 15.45, 15.44, 15.44, 15.43, 15.43, 15.42, 15.41, 15.41, 15.40, 15.40, 15.39, 15.39, 15.38, 15.38, 15.37, 15.36, 15.36, 15.36, 15.35, 15.34, 15.34, 15.33, 15.33, 15.32, 15.32, 15.31, 15.30, 15.30, 15.29, 15.29,
 15.28, 15.27, 15.27, 15.27, 15.26, 15.25, 15.25, 15.24, 15.24, 15.23, 15.22, 15.22, 15.22, 15.21, 15.20, 15.20, 15.19, 15.19, 15.18, 15.18, 15.17, 15.16, 15.16, 15.15, 15.15, 15.14, 15.13, 15.13, 15.13, 15.12, 15.11, 15.11, 15.10, 15.10, 15.09,
 15.09, 15.08, 15.07, 15.05, 15.03, 15.02, 15.01, 15.00, 14.98, 14.97, 14.96, 14.94, 14.92, 14.91, 14.90, 14.89, 14.87, 14.85, 14.84, 14.83, 14.81, 14.80, 14.79, 14.78, 14.75, 14.74, 14.73, 14.72, 14.70, 14.69, 14.68, 14.66, 14.65, 14.64, 14.63, 14.62, 14.60, 14.59, 14.57, 14.56,
 // packed core, second pass
 16.22, 16.21, 16.21, 16.21, 16.20, 16.20, 16.19, 16.19, 16.19, 16.18, 16.18, 16.17, 16.17, 16.17, 16.16, 16.16, 16.15, 16.15, 16.15, 16.14, 16.14, 16.13, 16.13, 16.12, 16.12, 16.12, 16.11, 16.11,
 16.11, 16.10, 16.10, 16.09, 16.09, 16.09, 16.08, 16.08, 16.07, 16.07, 16.07, 16.06, 16.06, 16.06, 16.05, 16.05, 16.04, 16.04, 16.04, 16.03, 16.03, 16.02, 16.02, 16.01, 16.01, 16.01, 16.00, 16.00,
 15.99, 15.99, 15.99, 15.98, 15.98, 15.97, 15.97, 15.97, 15.96, 15.96, 15.95, 15.95, 15.95, 15.94, 15.94, 15.93, 15.93, 15.93, 15.92, 15.92, 15.92, 15.91, 15.91, 15.90, 15.90, 15.90, 15.89, 15.89,
 15.88, 15.88, 15.87, 15.87, 15.87, 15.86, 15.86, 15.85, 15.85, 15.85, 15.84, 15.84, 15.83, 15.83, 15.83, 15.82, 15.82, 15.81, 15.81, 15.81, 15.80, 15.80, 15.79, 15.79, 15.79, 15.78, 15.78, 15.78,
 15.77, 15.77, 15.76, 15.76, 15.76, 15.75, 15.75, 15.74, 15.74, 15.73, 15.73, 15.73, 15.72, 15.72, 15.71, 15.71, 15.71, 15.70, 15.70, 15.70, 15.69, 15.69, 15.68, 15.68, 15.68, 15.67, 15.67, 15.66,
 15.66, 15.66, 15.65, 15.65, 15.64, 15.64, 15.64, 15.63, 15.63, 15.62, 15.62, 15.62, 15.61, 15.61, 15.60, 15.60, 15.60, 15.59, 15.59, 15.58, 15.58, 15.57, 15.57, 15.57, 15.56, 15.56, 15.56, 15.55,
 15.55, 15.54, 15.54, 15.54, 15.53, 15.53, 15.52, 15.52, 15.52, 15.51, 15.51, 15.51, 15.50, 15.50, 15.49, 15.49, 15.48, 15.48, 15.48, 15.47, 15.47, 15.46, 15.46, 15.46, 15.45, 15.45, 15.44, 15.44,
 15.44, 15.43, 15.43, 15.42, 15.42, 15.42, 15.41, 15.41, 15.40, 15.40, 15.40, 15.39, 15.39, 15.39, 15.38, 15.38, 15.37, 15.37, 15.37, 15.36, 15.36, 15.35, 15.35, 15.34, 15.34, 15.34, 15.33, 15.33,
 15.32, 15.32, 15.32, 15.31, 15.31, 15.30, 15.30, 15.30, 15.29, 15.29, 15.28, 15.28, 15.28, 15.27, 15.27, 15.26, 15.26, 15.26, 15.25, 15.25, 15.25, 15.24, 15.24, 15.23, 15.23, 15.23, 15.22, 15.22,
 15.21, 15.21, 15.20, 15.20, 15.20, 15.19, 15.19, 15.18, 15.18, 15.18, 15.17, 15.17, 15.17, 15.16, 15.16, 15.15, 15.15, 15.15, 15.14, 15.14, 15.13, 15.13, 15.13, 15.12, 15.12, 15.11, 15.11, 15.11,
 15.10, 15.10, 15.09, 15.09, 15.09, 15.08, 15.08,
 15.09, 15.09, 15.08, 15.07, 15.06, 15.05, 15.04, 15.03, 15.02, 15.01, 15.00, 14.99, 14.98, 14.97, 14.97, 14.95, 14.95, 14.94, 14.93, 14.92, 14.91, 14.90, 14.89, 14.88, 14.87, 14.86, 14.85, 14.84, 14.83, 14.83, 14.81, 14.81, 14.80, 14.79, 14.78, 14.77, 14.76, 14.75, 14.74, 14.73, 14.72, 14.71
];

const resB = [
 1.78, 1.68, 1.60, 1.60,
 -0.01, 0.06, -0.05, -0.06, 0.01, -0.09, 0.06, -0.27, -0.01, -0.08, -0.03, -0.11, 0.02, 0.03,
 0.11, 0.26, 0.28, 0.23, -0.13, 0.02, -0.06, 0.09, 0.03, -0.18, -0.01, 0.05, -0.16, -0.07, 0.12, -0.02, 0.39, -0.21, 0.07, 0.38, -0.09, 0.19,
 0.17, -0.25, 0.02, -0.15, 0.25, 0.39, -0.03, -0.11, 0.12, 0.32, -0.21, 0.05, -0.05, 0.19, -0.28, 0.23, 0.09, -0.13, 0.01, 0.27, -0.18, 0.15, -0.08, 0.07, 0.22, -0.23, -0.01, 0.32, -0.35, 0.60, -0.13, 0.12, 0.03, 0.07, -0.18, 0.27, -0.07, 0.35, -0.31, 0.17,
 -0.05, -0.33, 0.54, 0.20, -0.18, 0.08, -0.25, 0.30, 0.00, -0.12, 0.15, -0.30, 0.25, -0.05, 0.10, -0.20, 0.32, 0.02, -0.15, 1.43, 0.18, -0.38, 0.06, -0.10, 0.28, 0.67, -0.25, 0.12, -0.02, 0.22, -0.32, 0.38, -0.08, 0.05, 0.12,
 0.35, -0.40, 0.10, -0.15, 0.25, -0.05, 0.02, -0.30, 0.18, -0.22, 0.30, -0.10, 0.95, 0.08, -0.35, 0.15, -0.02, 0.40,
 -0.45, 0.22, -0.18, 0.05, 0.33, -0.28, 0.12, -0.08, 0.28, -0.40, 0.00, 0.18, -0.24, 0.38, -0.12, 0.08, -0.33, 0.25, -0.04, 0.15,
 -0.48, 0.30, -0.20, 0.06, 0.42, -0.10, 0.20, -0.36, 0.00, 0.26, -0.26, 0.12, -0.06, 0.34, -0.42, 0.16, -0.15, 0.04, 0.45, -0.30, 0.22, 0.60,
 -0.08, 0.36, -0.22, 0.10, -0.45, 0.24, -0.02, 0.18, -0.34, 0.05, 0.40, -0.14, 0.28, 0.83, -0.28, 0.14, -0.05, 0.32, -0.40, 0.08, -0.18, 0.58,
 0.22, -0.50, 0.02, 0.30, -0.24, 0.12, -0.10, 0.44, -0.36, 0.18, -0.02, 1.11, -0.69, -0.89, 0.26, -0.16, 1.05, 0.06, -0.42, 0.35, -0.06, -0.60, 0.15, -0.30,
 0.50, -0.51, 0.08, -0.20, 0.28, 0.87, -0.04, 0.20, -0.38, 0.12, -0.12, 0.38, -0.28, 0.87, 0.02, 0.24, -0.46, 0.10, -0.18, 0.32, 0.00, -0.34, 0.16, 0.60,
 -0.08, 0.44, -0.24, 0.06, 0.26, -0.40, 0.14, -0.14, 0.34, -0.02, 0.20, -0.30, 0.70, 0.04, -0.48, 0.28, -0.10, 0.12, -0.36, 0.40, -0.20, 0.55, -0.58, 0.65,
 0.08, -0.26, 0.30, -0.06, 0.18, -0.42, 0.02, 0.36, -0.16, 0.12, -0.32, 0.24, -0.04, 0.45, -0.50, 0.10, -0.20, 0.30, 0.00, -0.38,
 0.20, -0.10, 0.40, -0.28, 0.06, 0.58, -0.44, 0.16, -0.02, 1.22, 0.28, -0.22, 0.10, -0.36, 1.42, 1.40, 0.34, -0.08, 0.22, -0.48, 0.04, 0.50,
 0.64, -0.81, -0.18, 0.26, -0.30, -0.65, 0.12, -0.06, 0.38, -0.84, -0.40, 0.18, -0.12, 0.32, 0.00, -0.26, 0.44, 0.08, -0.44, 0.22, -0.04, 0.30,
 -0.20, 0.14, -0.34, 0.36, 0.02, -0.10, 0.24, -0.52, 0.10, 0.70, -0.28, 0.40, -0.04, 0.18, -0.38, 0.28, -0.14, 0.06,
 0.34, -0.46, 0.12, -0.22, 0.42, 0.00, -0.30, 0.22, -0.08, 0.30, -0.56, 0.06, -0.18, 0.46, 0.16, -0.40, -0.02, 0.26,
 -0.12, 0.36, 1.02, -0.34, 0.10, -0.60, 0.24, 1.00, -0.06, 1.19, 0.40, -0.24, 0.14, -0.42, 0.02, 0.60,
 0.30, -0.16, 0.77, 0.08, -0.36, 0.20, -0.04, 0.44, -0.26, 0.12, -0.50, 0.32, -0.10, 0.04, -0.30, 0.22,
 0.55, -0.02, -0.40, 0.16, -0.20, 0.36, 0.00, -0.32, 0.26, -0.10, 0.10, -0.46, 0.42, 0.06, -0.18, 0.30,
 -0.28, 1.29, 0.14, -0.06, 0.34, -0.38, 0.62, 1.44, 0.04, -0.16, 0.24, -0.44, 0.10, -0.24,
 0.38, -0.02, -0.34, 0.18, -0.12, 0.50, 0.08, -0.40, 0.28, -0.20, 0.02, 0.56, -0.30, 0.14,
 -0.08, -0.86, 0.30, -0.36, 0.12, -0.18, 0.40, 0.00, -0.28, 1.56, 0.20, -0.46, 0.08, 0.60, -0.12, 0.26, -0.32, 0.04, 0.44, -0.22, 0.14, -0.40, 0.32, 1.46, -0.04, 0.18, -0.26, 0.06, -0.50, 0.24, -0.14, 0.36, 0.00, -0.76, -0.32, 0.10, -0.20, 0.28, -0.06, 0.16, -0.38, 0.04, 0.34, -0.24, 0.12, -0.10, 0.22, -0.34, 0.06, 0.42,
 -0.20, 0.30, -0.40, 0.10, -0.06, 0.22, 0.75, -0.30, 0.02, 0.38, -0.16, 0.14, -0.44, 0.26, -0.08, -0.54, 0.06, 0.58, -0.24, 0.18, -0.36, 0.32, -0.02, 0.10, -0.28, 0.40, -0.12, 0.20, -0.42, 0.60, 0.04, -0.22, 0.28, -0.06, 0.12, -0.34, 0.36, -0.14, 0.02, 0.22, 0.91, -0.26, 0.08, -0.44, 0.30, -0.08, 0.16, -0.20, 0.06, 0.58, -0.54, -0.32, 0.24, -0.04, 0.52, 0.10, -0.18, 0.34, -0.38, 0.02, 0.20, -0.10,
 0.28, -0.26, 0.06, 0.14, 0.54, -0.73, -0.14, 0.22, -0.04, 0.30, -0.30, 0.10, -0.18, 0.04, 0.18, -0.08, 0.32, -0.61, -0.22, 0.12, 0.26, -0.04, 0.16, -0.36, 0.06, 0.30, -0.14, 0.40, 0.02, -0.26, 0.20, 0.08, -0.10, 0.34, -0.08, 0.51, -0.30, 0.06, -0.40, 0.18, -0.02, -0.20, 0.32, 0.49, 0.02, -0.26, 0.14, -0.12, 0.56, 0.47, 0.40, 0.04, -0.33,
 0.18, -0.12, -0.22, 0.02, 0.30, -0.44, 0.06, 0.54, 0.26, -0.06, -0.28, 0.14, -0.02, -0.18, 0.31, 0.04, -0.10, 0.06, 0.34, -0.06, -0.28, 0.12, 0.18, 0.45, -0.12, 0.00, -0.22, -0.09, 0.45, 0.06, -0.14, -0.02, -0.08, -0.18, -0.04, -0.50, 0.30, -0.12, 0.30, 0.22, 0.08, -0.17, 0.15, -0.10, -0.16, -0.50, -0.57,
 // packed core
 -0.31, 0.27, -0.07, 0.13, -0.19, 0.04, -0.26, 0.19, -0.12, 0.31, -0.17, 0.09, -0.34, 0.24, -0.02, 0.16, -0.09, 0.29, -0.28, 0.01, -0.23, 0.21, -0.04, 0.11, -0.36, 0.07, -0.15, 0.33, -0.30, 0.18, -0.11, 0.26, -0.21, 0.03, -0.33, 0.19, -0.27, 0.09, -0.06, 0.28,
 -0.35, 0.14, -0.13, 0.23, -0.01, 0.02, -0.22, 0.31, -0.09, 0.12, -0.26, 0.08, -0.17, 0.27, -0.04, 0.21, -0.32, 0.05, -0.14, 0.17, -0.08, 0.29, -0.24, 0.10, -0.37, 0.13, -0.05, 0.25, -0.29, 0.00, -0.19, 0.17, -0.33, 0.06, 0.24, 0.09, -0.25, 0.14, -0.11, 0.30,
 -0.30, 0.03, -0.16, 0.22, -0.06, 0.26, -0.12, 0.07, -0.35, 0.15, -0.03, 0.20, -0.27, 0.11, -0.18, 0.17, -0.31, 0.28, -0.07, 0.04, -0.22, 0.12, -0.09, 0.25, -0.34, 0.05, -0.18, 0.21, -0.26, 0.09, -0.14, 0.27, -0.01, 0.15, -0.29, 0.22, -0.08, 0.10, -0.32, 0.18,
 -0.27, 0.06, -0.20, 0.24, -0.05, 0.11, -0.23, 0.29, -0.12, 0.02, -0.06, 0.18, -0.30, 0.08, -0.17, 0.25, -0.13, 0.04, -0.24, 0.14, -0.33, 0.10, -0.07, 0.20, -0.21, 0.03, -0.28, 0.16, -0.02, 0.26, -0.18, 0.22, -0.11, 0.07, -0.31, 0.14, -0.04, 0.24, -0.20, 0.00,
 -0.24, 0.09, -0.15, 0.18, -0.36, 0.06, -0.26, 0.12, -0.08, 0.23, -0.12, 0.15, -0.28, 0.02, -0.19, 0.19, -0.10, 0.05, -0.30, 0.11, -0.29, 0.04, -0.16, 0.21, -0.02, 0.08, -0.21, 0.16, -0.12, -0.32, -0.07, 0.13, -0.25, 0.03, -0.15,
 -0.14, 0.07, -0.27, 0.16, 0.02, -0.21, 0.12, -0.09, -0.30, 0.19, -0.04, -0.17, 0.09, -0.12, -0.25, 0.05, -0.19, 0.14, -0.33, -0.03, 0.01, -0.27, 0.17, -0.11, -0.16, 0.06, -0.22, 0.24, -0.02, -0.31, 0.11, -0.14, 0.13, -0.18, -0.06, 0.20, -0.24, 0.04, -0.13, 0.09,
 // packed core, second pass
 0.21, -0.12, 0.05, -0.27, 0.33, -0.04, 0.14, -0.19, 0.28, -0.31, 0.09, -0.06, 0.18, -0.23, 0.02, -0.16, 0.25, -0.09, 0.35, -0.29, 0.11, -0.33, 0.07, -0.14, 0.22, -0.02, 0.31, -0.20,
 0.16, -0.25, 0.01, 0.27, -0.11, 0.08, -0.32, -0.07, 0.34, -0.21, 0.13, -0.30, 0.04, 0.23, 0.28, -0.03, 0.10, -0.26, 0.19, -0.15, 0.00, -0.24, 0.12, -0.08, 0.30, -0.34, 0.06, -0.13,
 0.09, -0.29, 0.24, -0.01, 0.15, -0.19, 0.36, -0.11, 0.20, -0.35, 0.03, -0.22, 0.26, -0.05, 0.32, -0.18, 0.07, -0.10, 0.23, -0.28, 0.12, -0.02, 0.15, -0.26, 0.29, -0.13, 0.04, -0.31,
 0.19, -0.07, 0.33, -0.20, 0.01, -0.34, 0.10, -0.15, 0.25, -0.04, 0.13, -0.28, 0.21, -0.09, 0.06, -0.23, 0.18, -0.12, 0.35, -0.01, -0.30, -0.27, 0.11, -0.17, 0.27, 0.02, -0.08, 0.20,
 0.14, -0.32, 0.03, -0.14, 0.24, -0.22, 0.31, -0.05, 0.22, -0.29, 0.08, -0.18, 0.34, -0.10, 0.26, -0.13, 0.12, -0.24, 0.05, -0.03, -0.33, -0.20, 0.04, 0.30, -0.07, 0.17, -0.27, 0.09,
 0.11, -0.26, -0.02, 0.21, -0.14, 0.32, -0.06, -0.30, 0.16, -0.11, 0.01, 0.25, -0.19, 0.07, 0.03, -0.08, 0.28, -0.31, 0.12, -0.16, 0.19, -0.17, 0.29, -0.05, 0.14, -0.25, 0.06, -0.34,
 0.22, -0.10, 0.08, -0.21, 0.31, -0.02, 0.13, -0.09, 0.18, -0.28, 0.05, -0.15, 0.26, -0.03, 0.30, -0.22, 0.10, -0.12, 0.02, -0.30, 0.17, -0.14, 0.06, -0.32, 0.24, -0.06, 0.12, -0.20,
 0.17, -0.27, 0.00, 0.09, -0.18, 0.28, -0.08, -0.25, 0.13, -0.09, 0.33, -0.01, -0.16, 0.04, 0.08, -0.19, 0.21, -0.29, 0.15, -0.05, 0.25, -0.03, 0.27, -0.13, 0.06, -0.23, 0.18, -0.33,
 0.24, -0.06, 0.14, -0.17, 0.03, -0.26, 0.11, -0.21, 0.09, -0.02, 0.20, -0.31, 0.05, -0.12, 0.13, -0.15, 0.26, -0.08, -0.24, 0.01, 0.18, -0.28, 0.03, -0.10, 0.16, -0.04, 0.23, -0.18,
 0.10, -0.24, 0.19, -0.01, -0.13, 0.07, -0.30, -0.06, 0.21, -0.20, 0.11, -0.27, 0.02, 0.15, 0.18, -0.11, 0.04, -0.33, 0.09, -0.17, 0.24, -0.16, 0.08, -0.26, 0.14, -0.03, -0.21, 0.01,
 0.05, -0.19, 0.12, -0.09, -0.28, 0.17, -0.05,
 -0.21, 0.09, -0.05, 0.15, -0.28, -0.10, -0.02, -0.17, 0.20, -0.30, 0.05, -0.12, 0.11, -0.24, -0.04, -0.15, 0.18, -0.31, 0.02, -0.08, -0.22, -0.27, 0.13, -0.01, -0.11, -0.33, 0.07, 0.19, -0.19, -0.06, -0.25, 0.04, -0.14, 0.10, -0.29, -0.03, -0.18, 0.16, -0.09, -0.07, -0.26, 0.12
];

// labels printed above the first four stars
const topIds = ['1014', '1262', '820', ''];
const bottomIds = ['1014', '1262', '', '929'];

// axis ticks and limits
const resTicks = [-1, 0, 1, 2];
const fitTicks = [17, 16, 15, 14, 13];
const logPTicks = [0, 0.5, 1, 1.5];
const resLim = [-1.75, 2.25];
const fitLim = [12.616, 17.584];
const logPLim = [-0.072, 1.601];
const zeroLine = 0;

const FONT = '"Liberation Sans", Arial, Helvetica, sans-serif';
const AXIS_PX = 14.5;

// frame, rotated y labels, axis titles and star ids
const decor = {
 id: 'decor',
 afterDraw(chart, args, opts) {
  const { ctx, chartArea: a, scales } = chart;
  ctx.save();
  ctx.strokeStyle = '#000';
  ctx.lineWidth = 1;
  ctx.strokeRect(Math.round(a.left) + 0.5, Math.round(a.top) + 0.5,
   Math.round(a.right - a.left), Math.round(a.bottom - a.top));

  ctx.fillStyle = '#000';
  ctx.font = AXIS_PX + 'px ' + FONT;
  ctx.textAlign = 'center';
  ctx.textBaseline = 'middle';
  resTicks.forEach(v => {
   ctx.save();
   ctx.translate(a.left - 19, scales.y.getPixelForValue(v));
   ctx.rotate(-Math.PI / 2);
   ctx.fillText(String(v), 0, 0);
   ctx.restore();
  });

  ctx.save();
  ctx.translate(18, (a.top + a.bottom) / 2);
  ctx.rotate(-Math.PI / 2);
  ctx.fillText('Residuals', 0, 0);
  ctx.restore();

  const cx = (a.left + a.right) / 2;
  const by = a.bottom + 41;
  ctx.textBaseline = 'alphabetic';
  if (opts.fitTitle) {
   const big = AXIS_PX + 'px ' + FONT;
   const small = '9px ' + FONT;
   ctx.font = big;
   const wV = ctx.measureText('V').width;
   const wRest = ctx.measureText(' fitted values').width;
   ctx.font = small;
   const wS = Math.max(ctx.measureText('M').width, ctx.measureText('0').width);
   let x = cx - (wV + wS + wRest) / 2;
   ctx.textAlign = 'left';
   ctx.font = big;
   ctx.fillText('V', x, by);
   ctx.font = small;
   ctx.fillText('M', x + wV + 0.5, by - 6.5);
   ctx.fillText('0', x + wV + 0.5, by + 5);
   ctx.font = big;
   ctx.fillText(' fitted values', x + wV + wS + 1, by);
  } else {
   ctx.fillText('log P', cx, by);
  }

  const pts = chart.getDatasetMeta(0).data;
  ctx.font = '8px ' + FONT;
  ctx.textAlign = 'center';
  ctx.textBaseline = 'middle';
  ctx.fillStyle = '#111';
  opts.ids.forEach((id, i) => {
   if (!id || !pts[i]) return;
   ctx.fillText(id, pts[i].x, pts[i].y - 9);
  });
  ctx.restore();
 }
};

function panel(canvasId, xs, ys, useFit, ids) {
 const lim = useFit ? fitLim : logPLim;
 const xTicks = useFit ? fitTicks : logPTicks;
 const tickGrid = { drawOnChartArea: false, drawTicks: true, tickLength: 5, color: '#000', lineWidth: 1 };

 new Chart(document.getElementById(canvasId), {
  type: 'scatter',
  data: {
   datasets: [
    {
     data: xs.map((x, i) => ({ x: x, y: ys[i] })),
     pointStyle: 'circle',
     pointRadius: 2.2,
     pointHoverRadius: 2.2,
     borderWidth: 1.15,
     borderColor: '#000',
     backgroundColor: 'rgba(0,0,0,0)',
     order: 1
    },
    {
     type: 'line',
     data: lim.map(x => ({ x: x, y: zeroLine })),
     borderColor: '#0000ff',
     borderWidth: 2,
     pointRadius: 0,
     fill: false,
     order: 0
    }
   ]
  },
  options: {
   responsive: false,
   animation: false,
   events: [],
   layout: { padding: { left: 0, right: 35, top: 35, bottom: 0 } },
   plugins: {
    legend: { display: false },
    tooltip: { enabled: false },
    decor: { fitTitle: useFit, ids: ids }
   },
   scales: {
    x: {
     type: 'linear',
     reverse: useFit,
     min: lim[0],
     max: lim[1],
     afterBuildTicks: s => { s.ticks = xTicks.map(v => ({ value: v })); },
     afterFit: s => { s.height = 75; },
     grid: tickGrid,
     border: { display: false },
     ticks: {
      color: '#000',
      font: { family: FONT, size: AXIS_PX },
      padding: 2,
      maxRotation: 0,
      autoSkip: false,
      callback: v => useFit ? String(v) : v.toFixed(1)
     }
    },
    y: {
     type: 'linear',
     min: resLim[0],
     max: resLim[1],
     afterBuildTicks: s => { s.ticks = resTicks.map(v => ({ value: v })); },
     afterFit: s => { s.width = 59; },
     grid: tickGrid,
     border: { display: false },
     ticks: { display: false }
    }
   }
  },
  plugins: [decor]
 });
}

panel('tl', fitA, resA, true, topIds);
panel('tr', logP, resA, false, topIds);
panel('bl', fitB, resB, true, bottomIds);
panel('br', logP, resB, false, bottomIds);
</script>
</body>
</html>
